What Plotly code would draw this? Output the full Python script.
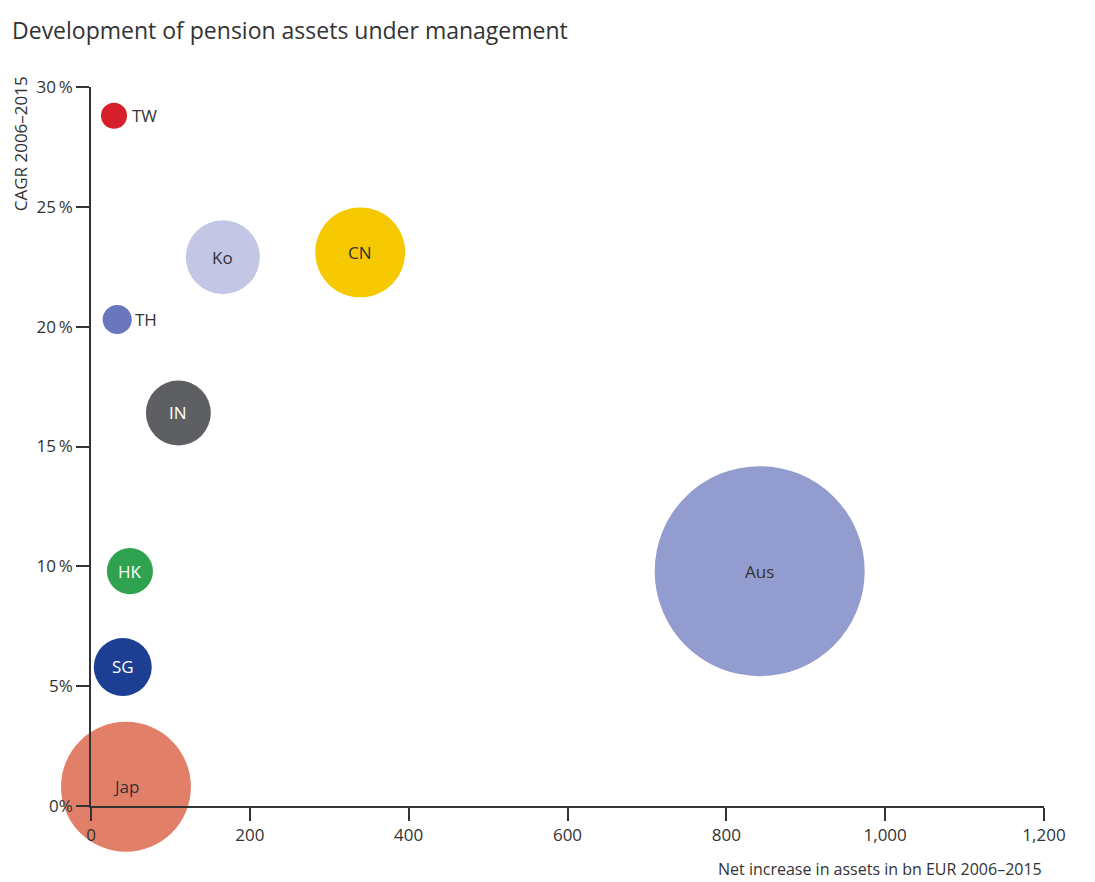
import plotly.graph_objects as go

countries = ["TW", "Ko", "CN", "TH", "IN", "HK", "Aus", "SG", "Jap"]
net_increase = [29, 166, 339, 33, 110, 49, 842, 40, 44]      # bn EUR 2006-2015
cagr = [28.8, 22.9, 23.1, 20.3, 16.4, 9.8, 9.8, 5.8, 0.8]    # %
assets_2015 = [24, 194, 286, 30, 149, 75, 1560, 119, 597]    # bubble size (bn EUR)
colors = ["#d71f2b", "#c3c6e4", "#f5c800", "#6b77bd", "#5d5f63",
          "#2ea24e", "#939cce", "#1c3f93", "#e27f69"]
text_colors = ["#333333", "#333333", "#333333", "#333333", "#ffffff",
               "#ffffff", "#333333", "#ffffff", "#333333"]
outside = ["TW", "TH"]

y_tickvals = [0, 5, 10, 15, 20, 25, 30]
y_ticktext = ["0%", "5%", "10\u2009%", "15\u2009%", "20\u2009%", "25\u2009%", "30\u2009%"]
x_tickvals = [0, 200, 400, 600, 800, 1000, 1200]
x_ticktext = ["0", "200", "400", "600", "800", "1,000", "1,200"]

FONT = "Open Sans, sans-serif"
max_d = 210
sizeref = 2.0 * max(assets_2015) / max_d ** 2

fig = go.Figure()
fig.add_trace(go.Scatter(
    x=net_increase, y=cagr, mode="markers",
    marker=dict(size=assets_2015, sizemode="area", sizeref=sizeref,
                color=colors, opacity=1, line=dict(width=0)),
    cliponaxis=False, hoverinfo="text", text=countries, showlegend=False,
))

for c, x, y, tc in zip(countries, net_increase, cagr, text_colors):
    if c in outside:
        fig.add_annotation(x=x, y=y, text=c, showarrow=False, xanchor="left",
                           xshift=16, font=dict(family=FONT, size=17, color="#333333"))
    else:
        fig.add_annotation(x=x, y=y, text=c, showarrow=False,
                           font=dict(family=FONT, size=17, color=tc))

fig.add_annotation(xref="paper", yref="paper", x=-0.0745, y=1.017, text="CAGR 2006\u20132015",
                   textangle=-90, showarrow=False, xanchor="center", yanchor="top",
                   font=dict(family=FONT, size=17, color="#333333"))
fig.add_annotation(xref="paper", yref="paper", x=1.0, y=-0.087,
                   text="Net increase in assets in bn EUR 2006\u20132015",
                   showarrow=False, xanchor="right", yanchor="middle",
                   font=dict(family=FONT, size=16, color="#333333"))

fig.update_layout(
    width=1095, height=882,
    margin=dict(l=91, r=51, t=87, b=76),
    paper_bgcolor="white", plot_bgcolor="white",
    title=dict(text="Development of pension assets under management", x=0.011, xanchor="left",
               y=0.965, yanchor="middle",
               font=dict(family=FONT, size=23, color="#333333")),
    xaxis=dict(range=[0, 1200], tickvals=x_tickvals, ticktext=x_ticktext,
               showgrid=False, zeroline=False, showline=True, linecolor="#333333", linewidth=1.5,
               ticks="outside", ticklen=13, tickcolor="#333333", tickwidth=1.5,
               tickfont=dict(family=FONT, size=17, color="#333333")),
    yaxis=dict(range=[0, 30], tickvals=y_tickvals, ticktext=y_ticktext,
               showgrid=False, zeroline=False, showline=True, linecolor="#333333", linewidth=1.5,
               ticks="outside", ticklen=13, tickcolor="#333333", tickwidth=1.5,
               tickfont=dict(family=FONT, size=17, color="#333333")),
)

fig.write_html("out.html")
